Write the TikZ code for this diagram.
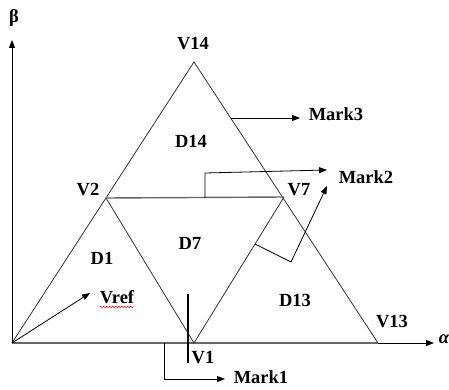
\documentclass[tikz,border=0pt]{standalone}
\usepackage{fontspec}
\setmainfont{Liberation Serif}
\usetikzlibrary{arrows.meta,decorations.pathmorphing}
\begin{document}
\begin{tikzpicture}[x=1pt,y=-1pt,
  lbl/.style={font=\bfseries\fontsize{18.5}{21}\selectfont, inner sep=0pt},
  edge/.style={line width=0.8pt, draw=black!80},
  hedge/.style={line width=1.4pt, draw=black!60},
  arr/.style={-{Triangle[length=8pt,width=6pt]}, line width=0.8pt}]
\useasboundingbox (0,0) rectangle (449,390);
\coordinate (O) at (12,343);
\coordinate (V2p) at (106,198);
\coordinate (V1p) at (194,343);
\coordinate (V14p) at (194,62);
\coordinate (V7p) at (284,197);
\coordinate (V13p) at (378,343);
\coordinate (betaend) at (12,40);
\coordinate (alphaend) at (434,343);
% axes
\draw[arr, line width=1pt] (O) -- (betaend);
\draw[hedge] (O) -- (V13p);
\draw[arr, line width=1pt] (V13p) -- (alphaend);
% triangles
\draw[edge] (O) -- (V14p) -- (V13p);
\draw[edge] (V2p) -- (V1p) -- (V7p);
\draw[hedge] (V2p) -- (V7p);
% Vref
\coordinate (vreftip) at (90,293);
\draw[arr] (O) -- (vreftip);
% Mark3
\coordinate (m3s) at (231,118);
\coordinate (m3e) at (300,118);
\draw[arr] (m3s) -- (m3e);
% Mark2
\coordinate (m2a) at (205,198);
\coordinate (m2b) at (205,173);
\coordinate (m2e) at (327,170);
\draw[arr] (m2a) -- (m2b) -- (m2e);
% perpendicular arrow
\coordinate (pa) at (255,244);
\coordinate (pb) at (291,262);
\coordinate (pe) at (327,186);
\draw[arr] (pa) -- (pb) -- (pe);
% Mark1
\coordinate (vl1) at (188,294);
\coordinate (vl2) at (188,363);
\draw[line width=1.1pt] (vl1) -- (vl2);
\coordinate (m1a) at (164,343);
\coordinate (m1b) at (164,379);
\coordinate (m1e) at (225,379);
\draw[arr] (m1a) -- (m1b) -- (m1e);
% labels
\node[lbl] (beta) at (14,18) {β};
\node[lbl, font=\itshape\bfseries\fontsize{18.5}{21}\selectfont] (alpha) at (444,339) {α};
\node[lbl] (tV14) at (193,44) {V14};
\node[lbl] (tD14) at (191,141) {D14};
\node[lbl] (tV2) at (88,190) {V2};
\node[lbl] (tV7) at (299,190) {V7};
\node[lbl] (tD1) at (102,258) {D1};
\node[lbl] (tD7) at (190,243) {D7};
\node[lbl] (tVref) at (117,297) {Vref};
\node[lbl] (tV1) at (203,358) {V1};
\node[lbl] (tD13) at (295,300) {D13};
\node[lbl] (tV13) at (392,322) {V13};
\node[lbl] (tM3) at (336,114) {Mark3};
\node[lbl] (tM2) at (366,177) {Mark2};
\node[lbl] (tM1) at (261,377) {Mark1};
\draw[red, line width=0.5pt, decorate, decoration={snake, amplitude=0.8pt, segment length=3pt}]
  ([yshift=-3pt]tVref.south west) -- ([yshift=-3pt]tVref.south east);
\end{tikzpicture}
\end{document}
